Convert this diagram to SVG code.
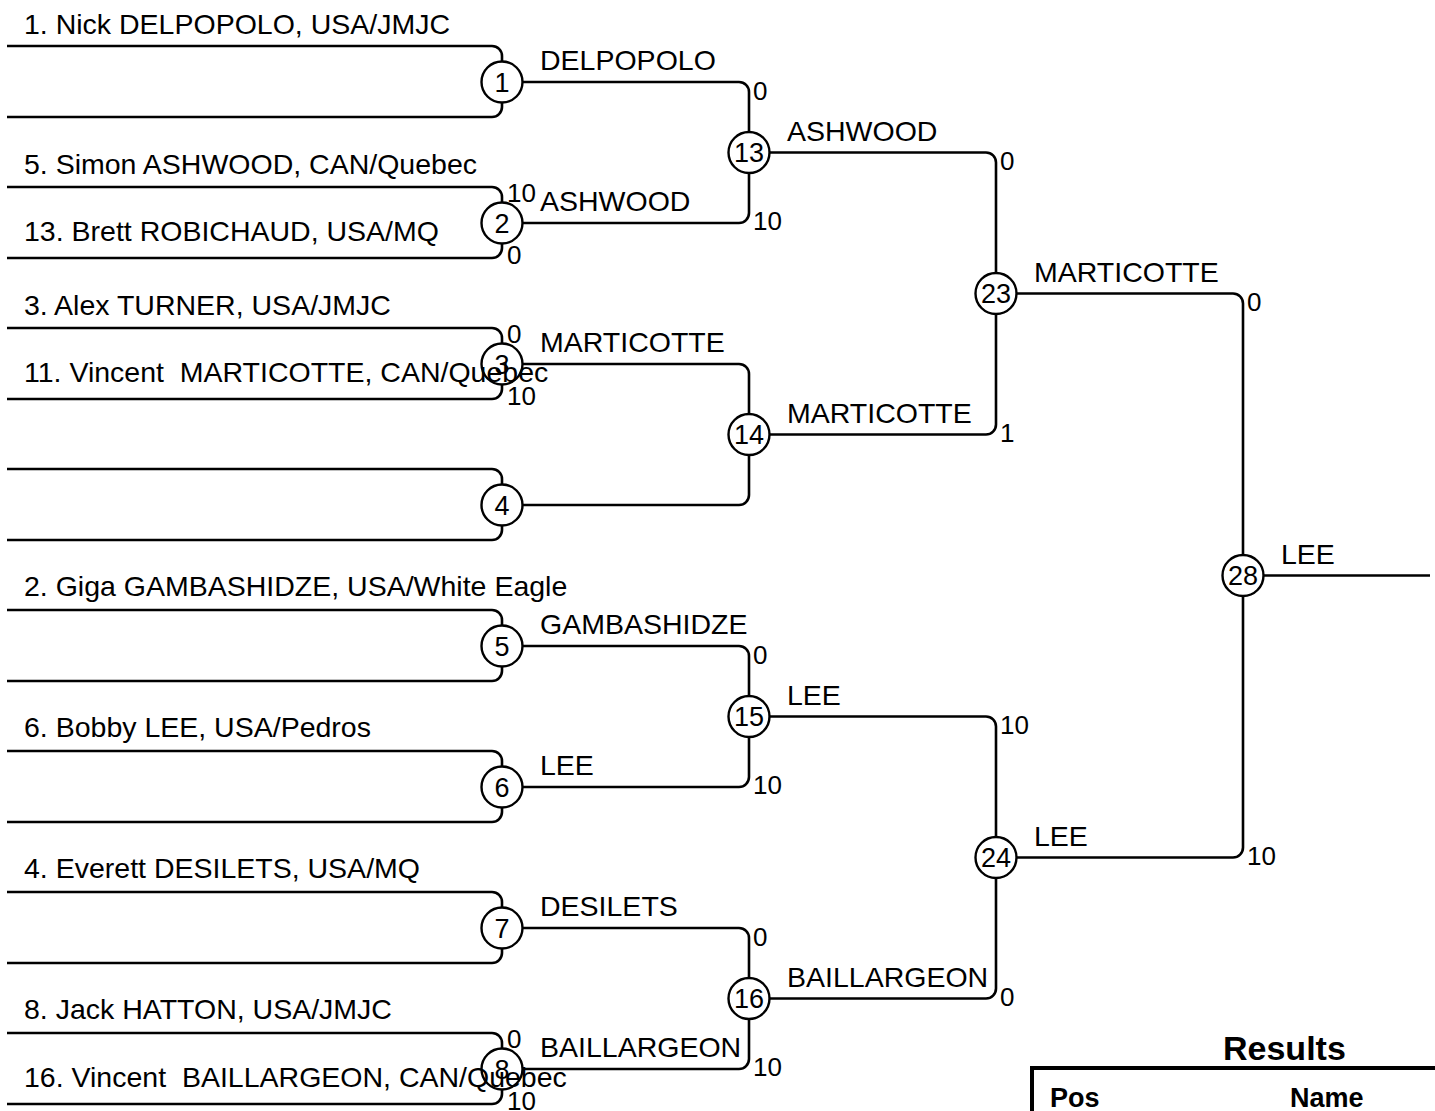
<svg xmlns="http://www.w3.org/2000/svg" width="1435" height="1111" viewBox="0 0 1435 1111">
<style>
text{font-family:"Liberation Sans",Arial,sans-serif;fill:#000;white-space:pre}
.nm{font-size:28.5px}
.lb{font-size:28.5px}
.sc{font-size:26px}
.cn{font-size:27px;text-anchor:middle}
.ln{fill:none;stroke:#000;stroke-width:2.6}
.nd{fill:#fff;stroke:#000;stroke-width:2.4}
.hd{font-weight:bold;font-size:34px}
.th{font-weight:bold;font-size:27px}
</style>
<rect width="1435" height="1111" fill="#fff"/>
<g id="connectors" class="ln">
<path d="M7 46H492A10 10 0 0 1 502 56V61.5M7 117H492A10 10 0 0 0 502 107V102.5"/>
<path d="M7 187H492A10 10 0 0 1 502 197V202.5M7 258H492A10 10 0 0 0 502 248V243.5"/>
<path d="M7 328H492A10 10 0 0 1 502 338V343.5M7 399H492A10 10 0 0 0 502 389V384.5"/>
<path d="M7 469H492A10 10 0 0 1 502 479V484.5M7 540H492A10 10 0 0 0 502 530V525.5"/>
<path d="M7 610H492A10 10 0 0 1 502 620V625.5M7 681H492A10 10 0 0 0 502 671V666.5"/>
<path d="M7 751H492A10 10 0 0 1 502 761V766.5M7 822H492A10 10 0 0 0 502 812V807.5"/>
<path d="M7 892H492A10 10 0 0 1 502 902V907.5M7 963H492A10 10 0 0 0 502 953V948.5"/>
<path d="M7 1033H492A10 10 0 0 1 502 1043V1048.5M7 1104H492A10 10 0 0 0 502 1094V1089.5"/>
<path d="M522.5 82H739A10 10 0 0 1 749 92V132M522.5 223H739A10 10 0 0 0 749 213V173"/>
<path d="M522.5 364H739A10 10 0 0 1 749 374V414M522.5 505H739A10 10 0 0 0 749 495V455"/>
<path d="M522.5 646H739A10 10 0 0 1 749 656V696M522.5 787H739A10 10 0 0 0 749 777V737"/>
<path d="M522.5 928H739A10 10 0 0 1 749 938V978M522.5 1069H739A10 10 0 0 0 749 1059V1019"/>
<path d="M769.5 152.5H986A10 10 0 0 1 996 162.5V273M769.5 434.5H986A10 10 0 0 0 996 424.5V314"/>
<path d="M769.5 716.5H986A10 10 0 0 1 996 726.5V837M769.5 998.5H986A10 10 0 0 0 996 988.5V878"/>
<path d="M1016.5 293.5H1233A10 10 0 0 1 1243 303.5V555M1016.5 857.5H1233A10 10 0 0 0 1243 847.5V596"/>
<path d="M1263.5 575.5H1430"/>
</g>
<g id="node-1"><circle class="nd" cx="502" cy="82" r="20.5"/><text class="cn" x="502" y="91.5">1</text></g>
<g id="node-2"><circle class="nd" cx="502" cy="223" r="20.5"/><text class="cn" x="502" y="232.5">2</text></g>
<g id="node-3"><circle class="nd" cx="502" cy="364" r="20.5"/><text class="cn" x="502" y="373.5">3</text></g>
<g id="node-4"><circle class="nd" cx="502" cy="505" r="20.5"/><text class="cn" x="502" y="514.5">4</text></g>
<g id="node-5"><circle class="nd" cx="502" cy="646" r="20.5"/><text class="cn" x="502" y="655.5">5</text></g>
<g id="node-6"><circle class="nd" cx="502" cy="787" r="20.5"/><text class="cn" x="502" y="796.5">6</text></g>
<g id="node-7"><circle class="nd" cx="502" cy="928" r="20.5"/><text class="cn" x="502" y="937.5">7</text></g>
<g id="node-8"><circle class="nd" cx="502" cy="1069" r="20.5"/><text class="cn" x="502" y="1078.5">8</text></g>
<g id="node-13"><circle class="nd" cx="749" cy="152.5" r="20.5"/><text class="cn" x="749" y="162">13</text></g>
<g id="node-14"><circle class="nd" cx="749" cy="434.5" r="20.5"/><text class="cn" x="749" y="444">14</text></g>
<g id="node-15"><circle class="nd" cx="749" cy="716.5" r="20.5"/><text class="cn" x="749" y="726">15</text></g>
<g id="node-16"><circle class="nd" cx="749" cy="998.5" r="20.5"/><text class="cn" x="749" y="1008">16</text></g>
<g id="node-23"><circle class="nd" cx="996" cy="293.5" r="20.5"/><text class="cn" x="996" y="303">23</text></g>
<g id="node-24"><circle class="nd" cx="996" cy="857.5" r="20.5"/><text class="cn" x="996" y="867">24</text></g>
<g id="node-28"><circle class="nd" cx="1243" cy="575.5" r="20.5"/><text class="cn" x="1243" y="585">28</text></g>
<g id="players" class="nm">
<text x="24" y="34">1. Nick DELPOPOLO, USA/JMJC</text>
<text x="24" y="174">5. Simon ASHWOOD, CAN/Quebec</text>
<text x="24" y="241">13. Brett ROBICHAUD, USA/MQ</text>
<text x="24" y="315">3. Alex TURNER, USA/JMJC</text>
<text x="24" y="382">11. Vincent  MARTICOTTE, CAN/Quebec</text>
<text x="24" y="596">2. Giga GAMBASHIDZE, USA/White Eagle</text>
<text x="24" y="737">6. Bobby LEE, USA/Pedros</text>
<text x="24" y="878">4. Everett DESILETS, USA/MQ</text>
<text x="24" y="1019">8. Jack HATTON, USA/JMJC</text>
<text x="24" y="1087">16. Vincent  BAILLARGEON, CAN/Quebec</text>
</g>
<g id="winners" class="lb">
<text x="540" y="70">DELPOPOLO</text>
<text x="540" y="211">ASHWOOD</text>
<text x="540" y="352">MARTICOTTE</text>
<text x="540" y="634">GAMBASHIDZE</text>
<text x="540" y="775">LEE</text>
<text x="540" y="916">DESILETS</text>
<text x="540" y="1057">BAILLARGEON</text>
<text x="787" y="141">ASHWOOD</text>
<text x="787" y="423">MARTICOTTE</text>
<text x="787" y="705">LEE</text>
<text x="787" y="987">BAILLARGEON</text>
<text x="1034" y="282">MARTICOTTE</text>
<text x="1034" y="846">LEE</text>
<text x="1281" y="564">LEE</text>
</g>
<g id="scores" class="sc">
<text x="507" y="202">10</text>
<text x="507" y="264">0</text>
<text x="507" y="343">0</text>
<text x="507" y="405">10</text>
<text x="507" y="1048">0</text>
<text x="507" y="1110">10</text>
<text x="753" y="100">0</text>
<text x="753" y="230">10</text>
<text x="753" y="664">0</text>
<text x="753" y="794">10</text>
<text x="753" y="946">0</text>
<text x="753" y="1076">10</text>
<text x="1000" y="170">0</text>
<text x="1000" y="442">1</text>
<text x="1000" y="734">10</text>
<text x="1000" y="1006">0</text>
<text x="1247" y="311">0</text>
<text x="1247" y="865">10</text>
</g>
<g id="results">
<text class="hd" x="1223" y="1060">Results</text>
<path d="M1032 1113V1068H1437" fill="none" stroke="#000" stroke-width="4"/>
<text class="th" x="1050" y="1107">Pos</text>
<text class="th" x="1290" y="1107">Name</text>
</g>
</svg>
